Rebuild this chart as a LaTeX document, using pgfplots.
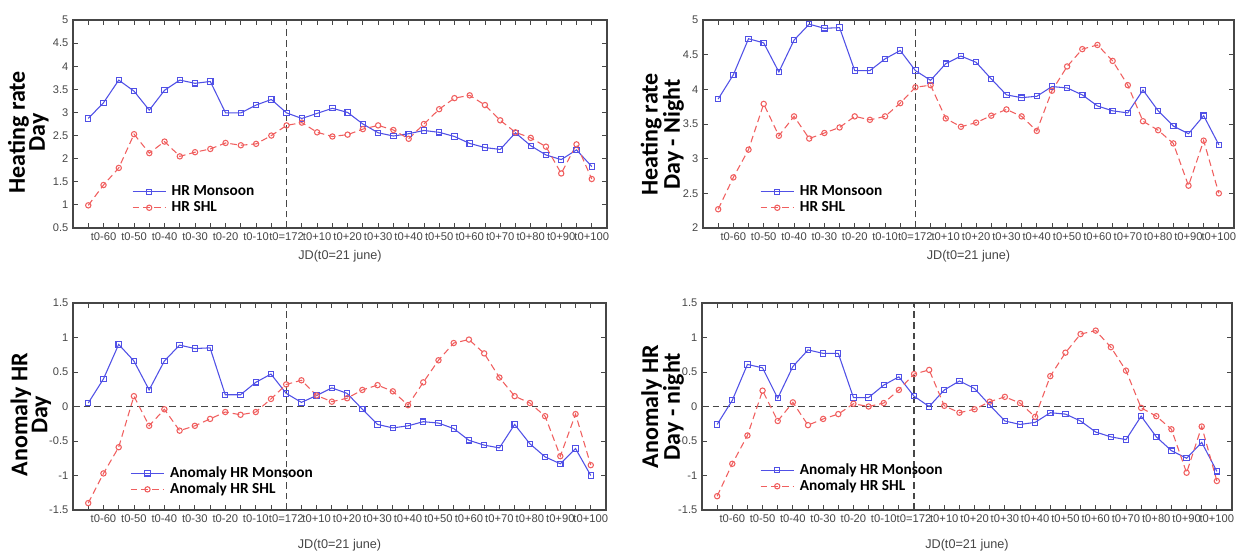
\documentclass[border=0pt]{standalone}
\usepackage{pgfplots}
\pgfplotsset{compat=1.18}
\usepackage{fontspec}
\setmainfont{Liberation Sans}
\newfontfamily\calib{Carlito}

\definecolor{hrblue}{RGB}{80,80,230}
\definecolor{hrred}{RGB}{240,95,95}
\definecolor{axgray}{RGB}{70,70,70}
\definecolor{tkgray}{RGB}{70,70,70}

\pgfplotsset{
  panel/.style={
    scale only axis,
    xmin=-70, xmax=105,
    xtick={-60,-50,...,100},
    minor xtick={-65,-55,...,95},
    xticklabels={t0-60,t0-50,t0-40,t0-30,t0-20,t0-10,{t0=172},t0+10,t0+20,t0+30,t0+40,t0+50,t0+60,t0+70,t0+80,t0+90,t0+100},
    ytick distance=0.5,
    major tick length=4pt, minor tick length=4pt,
    tick style={axgray, line width=0.6pt},
    axis line style={axgray, line width=1pt},
    tick label style={text=tkgray},
    xticklabel style={font=\fontsize{8.4}{10}\selectfont},
    yticklabel style={font=\fontsize{8.3}{10}\selectfont},
    /pgf/number format/assume math mode=true,
    xlabel={JD(t0=21 june)},
    xlabel style={font=\fontsize{9.5}{11}\selectfont, text=tkgray, anchor=center},
    ylabel style={font=\calib\bfseries\fontsize{18}{15}\selectfont, align=center, anchor=south},
    legend style={draw=none, fill=none, anchor=north west, inner sep=0pt,
      font=\calib\bfseries\fontsize{11.5}{12}\selectfont,
      nodes={inner sep=0pt, text height=9pt, text depth=3pt},
      column sep=4pt},
    legend cell align=left,
    legend image code/.code={\draw[mark repeat=2,mark phase=2,##1] plot coordinates {(0pt,0pt) (12.5pt,0pt) (25pt,0pt)};},
  },
  mon/.style={hrblue, line width=0.8pt, mark=square, mark size=2pt, mark options={solid, fill=white}},
  shl/.style={hrred, line width=0.8pt, dash pattern=on 5pt off 3pt, mark=o, mark size=2pt, mark options={solid, fill=white}},
  refl/.style={axgray, line width=0.8pt, dash pattern=on 5pt off 3pt, forget plot, mark=none},
}

\begin{document}
\begin{tikzpicture}
\useasboundingbox (0pt,0pt) rectangle (930.75pt,-415.5pt);

% top left: heating rate day
\begin{axis}[panel, at={(54.75pt,-15pt)}, anchor=north west,
  width=400.5pt, height=156pt, ymin=0.5, ymax=5,
  ylabel={Heating rate\\Day},
  ylabel style={at={(axis description cs:-0.037,0.46)}},
  xlabel style={at={(axis description cs:0.5,-0.135)}},
  legend style={at={(0.110,0.214)}}]
\addplot[refl] coordinates {(0,0.5) (0,5)};
\addplot[mon] coordinates {
(-65,2.87) (-60,3.21) (-55,3.70) (-50,3.46) (-45,3.05) (-40,3.48) (-35,3.70)
(-30,3.63) (-25,3.67) (-20,2.99) (-15,2.99) (-10,3.16) (-5,3.28) (0,2.99)
(5,2.87) (10,2.98) (15,3.09) (20,3.00) (25,2.75) (30,2.56) (35,2.49) (40,2.54)
(45,2.61) (50,2.57) (55,2.48) (60,2.33) (65,2.24) (70,2.20) (75,2.56) (80,2.28)
(85,2.08) (90,1.98) (95,2.19) (100,1.83)};
\addlegendentry{HR Monsoon}
\addplot[shl] coordinates {
(-65,0.99) (-60,1.43) (-55,1.80) (-50,2.53) (-45,2.12) (-40,2.37) (-35,2.05)
(-30,2.14) (-25,2.21) (-20,2.34) (-15,2.29) (-10,2.32) (-5,2.50) (0,2.72)
(5,2.78) (10,2.57) (15,2.48) (20,2.52) (25,2.64) (30,2.72) (35,2.62) (40,2.43)
(45,2.75) (50,3.07) (55,3.31) (60,3.37) (65,3.16) (70,2.83) (75,2.57) (80,2.45)
(85,2.26) (90,1.68) (95,2.31) (100,1.56)};
\addlegendentry{HR SHL}
\end{axis}

% top right: heating rate day - night
\begin{axis}[panel, at={(527.25pt,-15pt)}, anchor=north west,
  width=398.25pt, height=156pt, ymin=2, ymax=5,
  ylabel={Heating rate\\Day - Night},
  ylabel style={at={(axis description cs:-0.027,0.45)}},
  xlabel style={at={(axis description cs:0.5,-0.135)}},
  legend style={at={(0.107,0.214)}}]
\addplot[refl] coordinates {(0,2) (0,5)};
\addplot[mon] coordinates {
(-65,3.86) (-60,4.21) (-55,4.73) (-50,4.67) (-45,4.25) (-40,4.71) (-35,4.94)
(-30,4.88) (-25,4.89) (-20,4.27) (-15,4.27) (-10,4.44) (-5,4.56) (0,4.27)
(5,4.13) (10,4.37) (15,4.48) (20,4.39) (25,4.15) (30,3.92) (35,3.88) (40,3.90)
(45,4.04) (50,4.02) (55,3.92) (60,3.76) (65,3.69) (70,3.66) (75,3.99) (80,3.69)
(85,3.47) (90,3.36) (95,3.62) (100,3.20)};
\addlegendentry{HR Monsoon}
\addplot[shl] coordinates {
(-65,2.27) (-60,2.73) (-55,3.13) (-50,3.79) (-45,3.33) (-40,3.61) (-35,3.29)
(-30,3.37) (-25,3.45) (-20,3.61) (-15,3.56) (-10,3.61) (-5,3.80) (0,4.03)
(5,4.06) (10,3.58) (15,3.46) (20,3.52) (25,3.62) (30,3.71) (35,3.61) (40,3.40)
(45,3.98) (50,4.33) (55,4.58) (60,4.64) (65,4.41) (70,4.06) (75,3.54) (80,3.41)
(85,3.22) (90,2.61) (95,3.26) (100,2.50)};
\addlegendentry{HR SHL}
\end{axis}

% bottom left: anomaly day
\begin{axis}[panel, at={(54.75pt,-227.25pt)}, anchor=north west,
  width=399.75pt, height=155.25pt, ymin=-1.5, ymax=1.5,
  ylabel={Anomaly HR\\Day},
  ylabel style={at={(axis description cs:-0.032,0.46)}},
  xlabel style={at={(axis description cs:0.5,-0.169)}},
  legend style={at={(0.107,0.217)}}]
\addplot[refl] coordinates {(0,-1.5) (0,1.5)};
\addplot[refl] coordinates {(-70,0) (105,0)};
\addplot[mon] coordinates {
(-65,0.05) (-60,0.40) (-55,0.90) (-50,0.66) (-45,0.24) (-40,0.66) (-35,0.89)
(-30,0.84) (-25,0.85) (-20,0.17) (-15,0.17) (-10,0.35) (-5,0.47) (0,0.19)
(5,0.06) (10,0.16) (15,0.27) (20,0.19) (25,-0.04) (30,-0.26) (35,-0.31) (40,-0.28)
(45,-0.22) (50,-0.24) (55,-0.32) (60,-0.49) (65,-0.56) (70,-0.60) (75,-0.26) (80,-0.54)
(85,-0.73) (90,-0.83) (95,-0.61) (100,-1.00)};
\addlegendentry{Anomaly HR Monsoon}
\addplot[shl] coordinates {
(-65,-1.40) (-60,-0.97) (-55,-0.59) (-50,0.15) (-45,-0.28) (-40,-0.04) (-35,-0.35)
(-30,-0.28) (-25,-0.18) (-20,-0.08) (-15,-0.12) (-10,-0.08) (-5,0.11) (0,0.32)
(5,0.38) (10,0.16) (15,0.07) (20,0.12) (25,0.24) (30,0.31) (35,0.22) (40,0.02)
(45,0.35) (50,0.67) (55,0.92) (60,0.97) (65,0.77) (70,0.42) (75,0.15) (80,0.05)
(85,-0.14) (90,-0.72) (95,-0.11) (100,-0.85)};
\addlegendentry{Anomaly HR SHL}
\end{axis}

% bottom right: anomaly day - night
\begin{axis}[panel, at={(526.5pt,-227.25pt)}, anchor=north west,
  width=397.5pt, height=155.25pt, ymin=-1.5, ymax=1.5,
  ylabel={Anomaly HR\\Day - night},
  ylabel style={at={(axis description cs:-0.025,0.5)}},
  xlabel style={at={(axis description cs:0.5,-0.169)}},
  legend style={at={(0.109,0.232)}}]
\addplot[refl] coordinates {(0,-1.5) (0,1.5)};
\addplot[refl] coordinates {(-70,0) (105,0)};
\addplot[mon] coordinates {
(-65,-0.26) (-60,0.09) (-55,0.61) (-50,0.56) (-45,0.12) (-40,0.58) (-35,0.82)
(-30,0.77) (-25,0.77) (-20,0.13) (-15,0.13) (-10,0.31) (-5,0.43) (0,0.15)
(5,0.00) (10,0.24) (15,0.37) (20,0.26) (25,0.02) (30,-0.21) (35,-0.26) (40,-0.23)
(45,-0.09) (50,-0.11) (55,-0.21) (60,-0.37) (65,-0.44) (70,-0.48) (75,-0.14) (80,-0.44)
(85,-0.64) (90,-0.75) (95,-0.52) (100,-0.94)};
\addlegendentry{Anomaly HR Monsoon}
\addplot[shl] coordinates {
(-65,-1.30) (-60,-0.83) (-55,-0.42) (-50,0.23) (-45,-0.21) (-40,0.06) (-35,-0.27)
(-30,-0.18) (-25,-0.11) (-20,0.04) (-15,0.00) (-10,0.05) (-5,0.24) (0,0.47)
(5,0.53) (10,0.01) (15,-0.09) (20,-0.04) (25,0.07) (30,0.14) (35,0.05) (40,-0.15)
(45,0.44) (50,0.78) (55,1.05) (60,1.10) (65,0.86) (70,0.52) (75,-0.02) (80,-0.14)
(85,-0.33) (90,-0.96) (95,-0.29) (100,-1.08)};
\addlegendentry{Anomaly HR SHL}
\end{axis}
\end{tikzpicture}
\end{document}
